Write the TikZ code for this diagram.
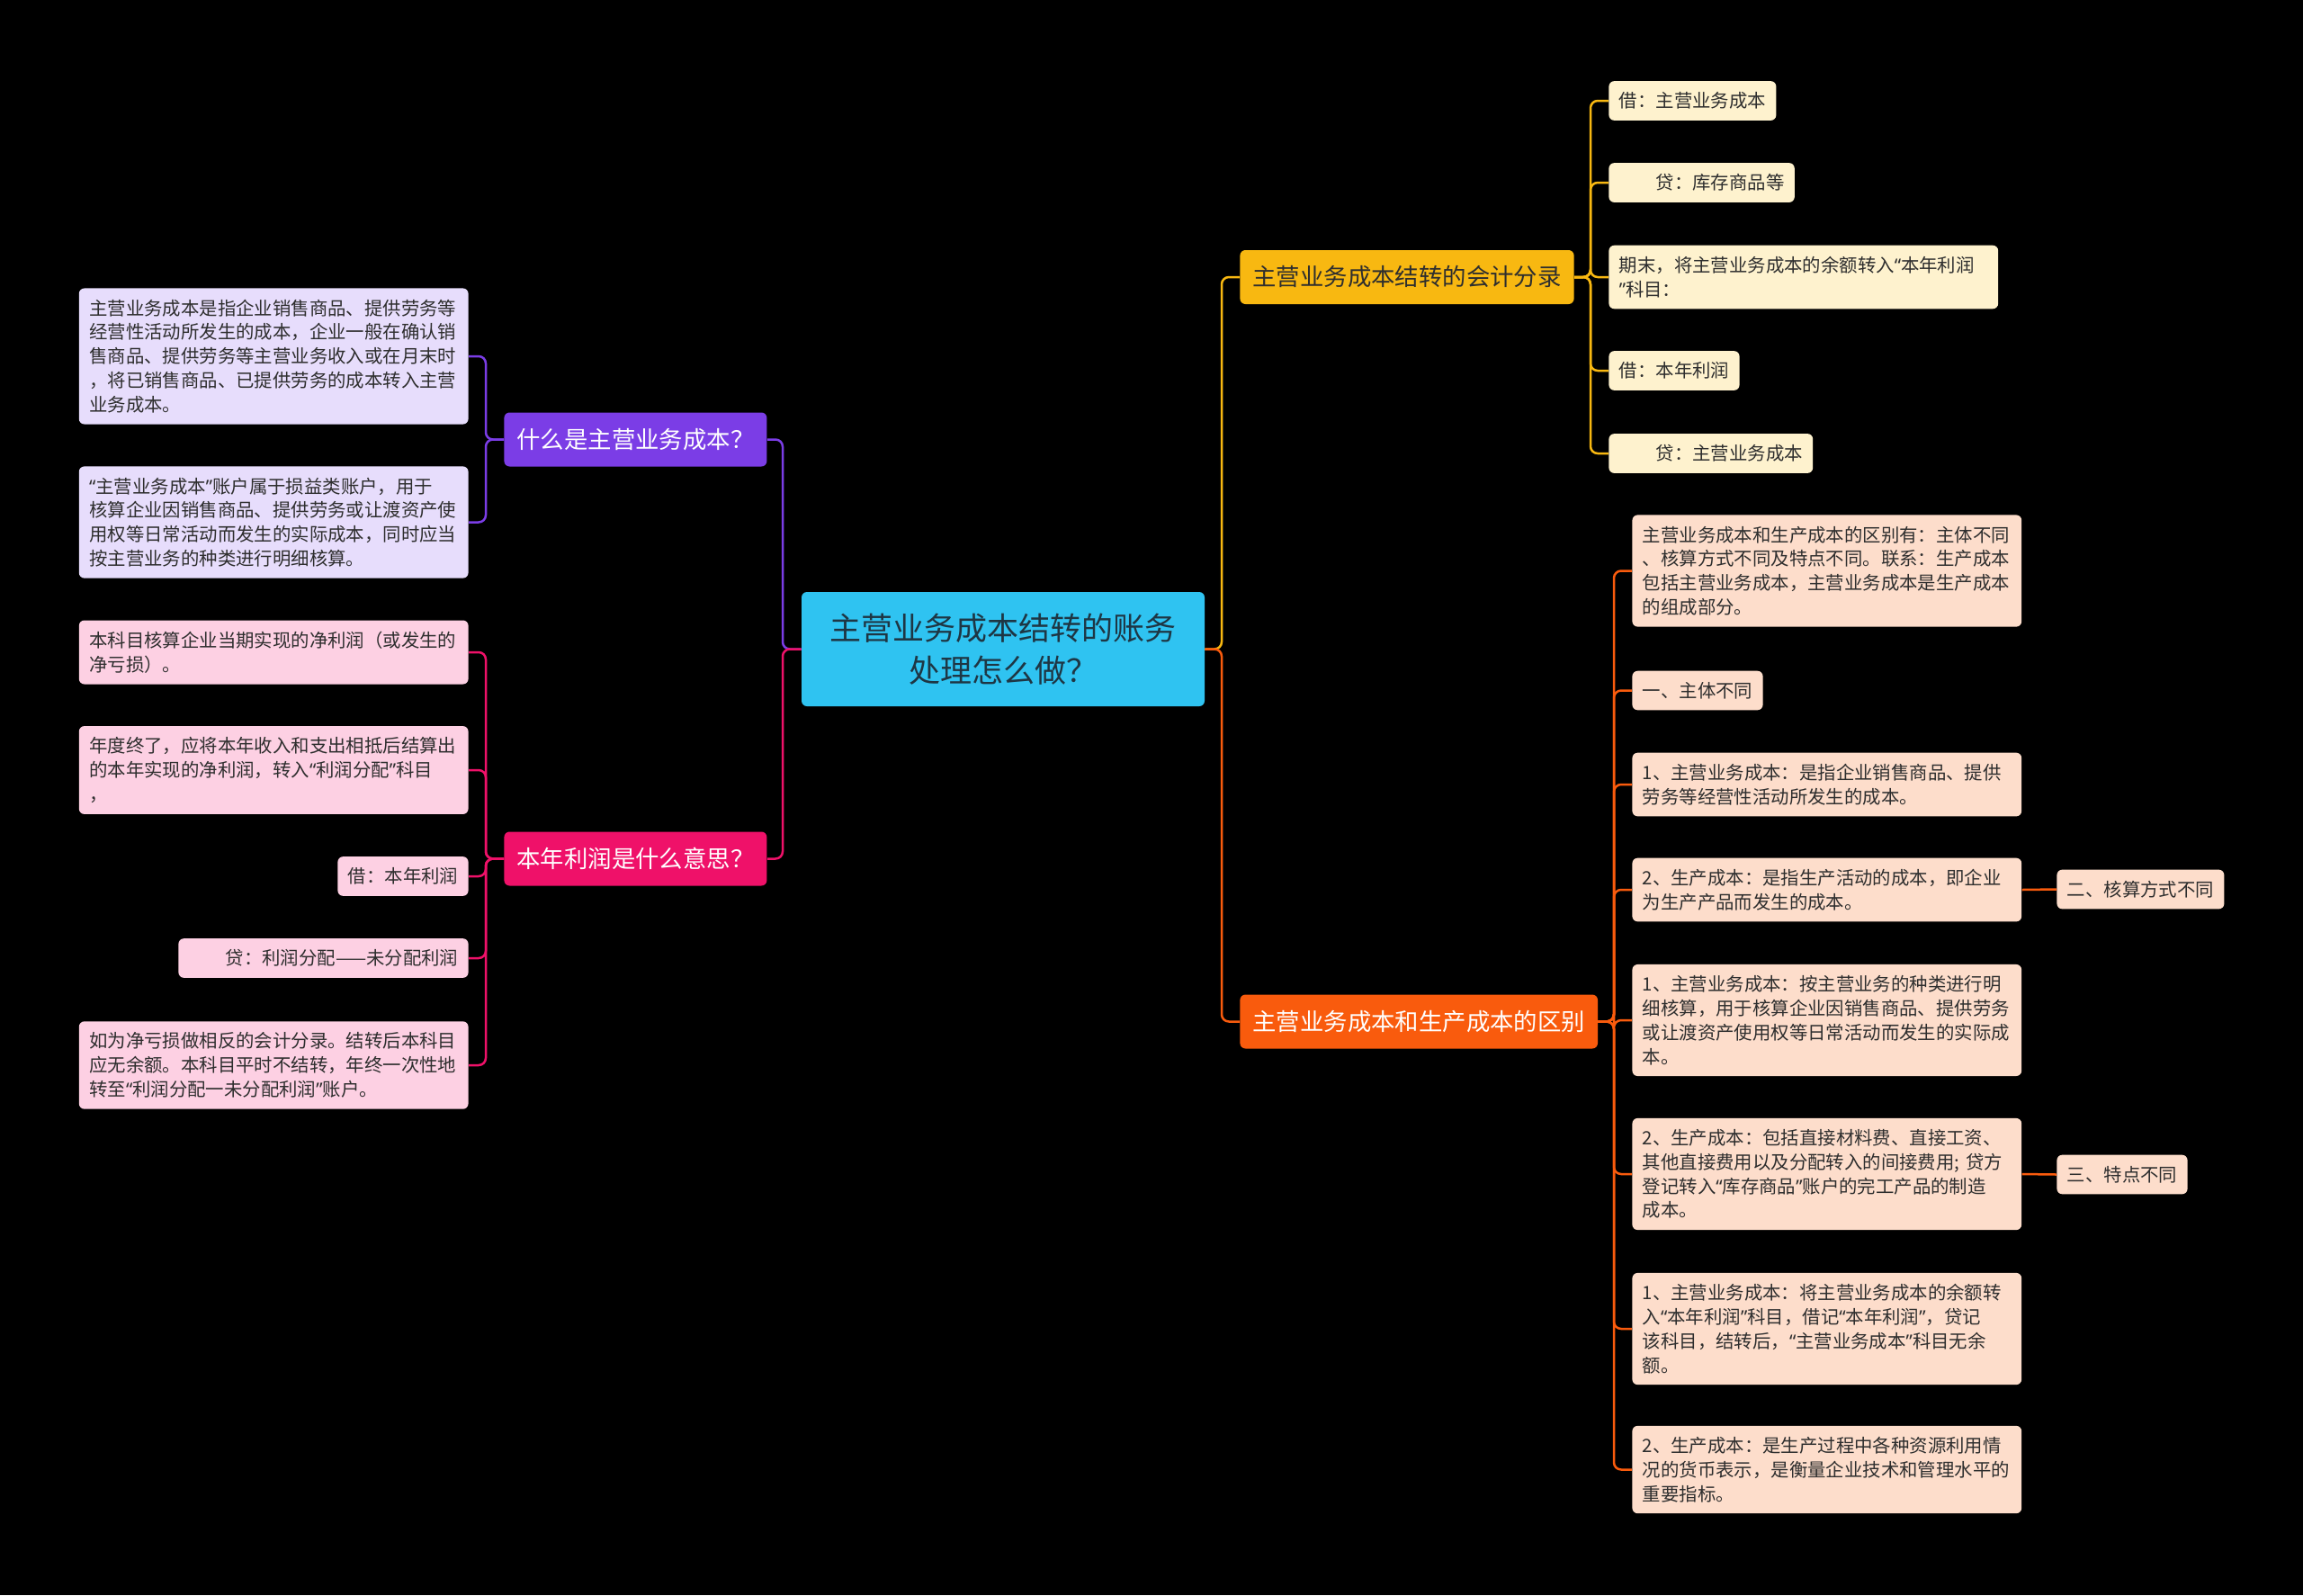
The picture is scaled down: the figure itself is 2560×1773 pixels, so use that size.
\documentclass[tikz,border=0pt]{standalone}
\usepackage{fontspec}
\setmainfont{Noto Sans CJK SC}
\newfontfamily\qf{Noto Sans}
\newcommand{\oq}{{\qf “}}
\newcommand{\cq}{{\qf ”}}
\usetikzlibrary{positioning}
\definecolor{rootc}{HTML}{2FC3F1}
\definecolor{roottxt}{HTML}{1E3644}
\definecolor{purp}{HTML}{7B3DE6}
\definecolor{hotpink}{HTML}{EF1169}
\definecolor{amber}{HTML}{F8B811}
\definecolor{orng}{HTML}{F95B0D}
\definecolor{lavleaf}{HTML}{E7DDFC}
\definecolor{pinkleaf}{HTML}{FDD0E3}
\definecolor{creamleaf}{HTML}{FEF2CE}
\definecolor{peachleaf}{HTML}{FDDDCB}
\definecolor{leaftxt}{HTML}{2E2E2E}
\tikzset{
  root/.style={fill=rootc, text=roottxt, rounded corners=3pt, align=center,
               font=\fontsize{17.5}{23.7}\selectfont, minimum width=224pt,
               minimum height=63.5pt},
  topic/.style={rounded corners=3pt, font=\fontsize{13.2}{16}\selectfont,
                inner xsep=7pt, minimum height=30pt},
  leaf/.style={rounded corners=3pt, font=\fontsize{10.2}{13.4}\selectfont,
               inner xsep=5.7pt, inner ysep=6.2pt, text=leaftxt, align=left},
  wide/.style={leaf, text width=205pt},
  link/.style={line width=1.25pt, rounded corners=4pt},
}
\begin{document}
\begin{tikzpicture}[x=0.5pt, y=-0.5pt]

\fill[black] (0,0) rectangle (2560,1773);

\node[root] (root) at (1115,721.5) {主营业务成本结转的账务\\处理怎么做？};

\node[topic, fill=purp, text=white, anchor=west] (what) at (560,488.5)
  {什么是主营业务成本？};
\node[topic, fill=hotpink, text=white, anchor=west] (profit) at (560,954.5)
  {本年利润是什么意思？};
\node[topic, fill=amber, text=leaftxt, anchor=west] (entry) at (1378,308)
  {主营业务成本结转的会计分录};
\node[topic, fill=orng, text=white, anchor=west] (diff) at (1378,1135.5)
  {主营业务成本和生产成本的区别};

\node[wide, fill=lavleaf, anchor=east] (w1) at (521,396)
  {主营业务成本是指企业销售商品、提供劳务等\\
   经营性活动所发生的成本，企业一般在确认销\\
   售商品、提供劳务等主营业务收入或在月末时\\
   ，将已销售商品、已提供劳务的成本转入主营\\
   业务成本。};
\node[wide, fill=lavleaf, anchor=east] (w2) at (521,580.5)
  {\oq 主营业务成本\cq 账户属于损益类账户，用于\\
   核算企业因销售商品、提供劳务或让渡资产使\\
   用权等日常活动而发生的实际成本，同时应当\\
   按主营业务的种类进行明细核算。};

\node[wide, fill=pinkleaf, anchor=east] (p1) at (521,725)
  {本科目核算企业当期实现的净利润（或发生的\\
   净亏损）。};
\node[wide, fill=pinkleaf, anchor=east] (p2) at (521,856)
  {年度终了，应将本年收入和支出相抵后结算出\\
   的本年实现的净利润，转入\oq 利润分配\cq 科目\\
   ，};
\node[leaf, fill=pinkleaf, anchor=east] (p3) at (521,974) {借：本年利润};
\node[leaf, fill=pinkleaf, anchor=east] (p4) at (521,1065)
  {\hspace*{2em}贷：利润分配——未分配利润};
\node[wide, fill=pinkleaf, anchor=east] (p5) at (521,1184)
  {如为净亏损做相反的会计分录。结转后本科目\\
   应无余额。本科目平时不结转，年终一次性地\\
   转至\oq 利润分配一未分配利润\cq 账户。};

\node[leaf, fill=creamleaf, anchor=west] (e1) at (1788,112) {借：主营业务成本};
\node[leaf, fill=creamleaf, anchor=west] (e2) at (1788,203)
  {\hspace*{2em}贷：库存商品等};
\node[wide, fill=creamleaf, anchor=west] (e3) at (1788,308)
  {期末，将主营业务成本的余额转入\oq 本年利润\\\cq 科目：};
\node[leaf, fill=creamleaf, anchor=west] (e4) at (1788,412) {借：本年利润};
\node[leaf, fill=creamleaf, anchor=west] (e5) at (1788,504)
  {\hspace*{2em}贷：主营业务成本};

\node[wide, fill=peachleaf, anchor=west] (d1) at (1814,634.5)
  {主营业务成本和生产成本的区别有：主体不同\\
   、核算方式不同及特点不同。联系：生产成本\\
   包括主营业务成本，主营业务成本是生产成本\\
   的组成部分。};
\node[leaf, fill=peachleaf, anchor=west] (d2) at (1814,767.5) {一、主体不同};
\node[wide, fill=peachleaf, anchor=west] (d3) at (1814,872)
  {1、主营业务成本：是指企业销售商品、提供\\
   劳务等经营性活动所发生的成本。};
\node[wide, fill=peachleaf, anchor=west] (d4) at (1814,989)
  {2、生产成本：是指生产活动的成本，即企业\\
   为生产产品而发生的成本。};
\node[wide, fill=peachleaf, anchor=west] (d5) at (1814,1134)
  {1、主营业务成本：按主营业务的种类进行明\\
   细核算，用于核算企业因销售商品、提供劳务\\
   或让渡资产使用权等日常活动而发生的实际成\\
   本。};
\node[wide, fill=peachleaf, anchor=west] (d6) at (1814,1305)
  {2、生产成本：包括直接材料费、直接工资、\\
   其他直接费用以及分配转入的间接费用; 贷方\\
   登记转入\oq 库存商品\cq 账户的完工产品的制造\\
   成本。};
\node[wide, fill=peachleaf, anchor=west] (d7) at (1814,1477)
  {1、主营业务成本：将主营业务成本的余额转\\
   入\oq 本年利润\cq 科目，借记\oq 本年利润\cq ，贷记\\
   该科目，结转后，\oq 主营业务成本\cq 科目无余\\
   额。};
\node[wide, fill=peachleaf, anchor=west] (d8) at (1814,1633.5)
  {2、生产成本：是生产过程中各种资源利用情\\
   况的货币表示，是衡量企业技术和管理水平的\\
   重要指标。};
\node[leaf, fill=peachleaf, anchor=west] (d4x) at (2286,988.5) {二、核算方式不同};
\node[leaf, fill=peachleaf, anchor=west] (d6x) at (2286,1305.5) {三、特点不同};

\coordinate (sl) at (870,0);
\coordinate (sr) at (1358,0);
\coordinate (s1) at (540,0);
\coordinate (s3) at (1768,0);
\coordinate (s4) at (1794,0);

\draw[link, purp] (root.west) -- (root.west -| sl) |- (what.east);
\draw[link, hotpink] (root.west) -- (root.west -| sl) |- (profit.east);
\draw[link, amber] (root.east) -- (root.east -| sr) |- (entry.west);
\draw[link, orng] (root.east) -- (root.east -| sr) |- (diff.west);

\foreach \n in {w1,w2}
  \draw[link, purp] (what.west) -- (what.west -| s1) |- (\n.east);
\foreach \n in {p1,p2,p3,p4,p5}
  \draw[link, hotpink] (profit.west) -- (profit.west -| s1) |- (\n.east);
\foreach \n in {e1,e2,e3,e4,e5}
  \draw[link, amber] (entry.east) -- (entry.east -| s3) |- (\n.west);
\foreach \n in {d1,d2,d3,d4,d5,d6,d7,d8}
  \draw[link, orng] (diff.east) -- (diff.east -| s4) |- (\n.west);
\draw[link, orng] (d4.east) -- (d4x.west);
\draw[link, orng] (d6.east) -- (d6x.west);

\end{tikzpicture}
\end{document}
